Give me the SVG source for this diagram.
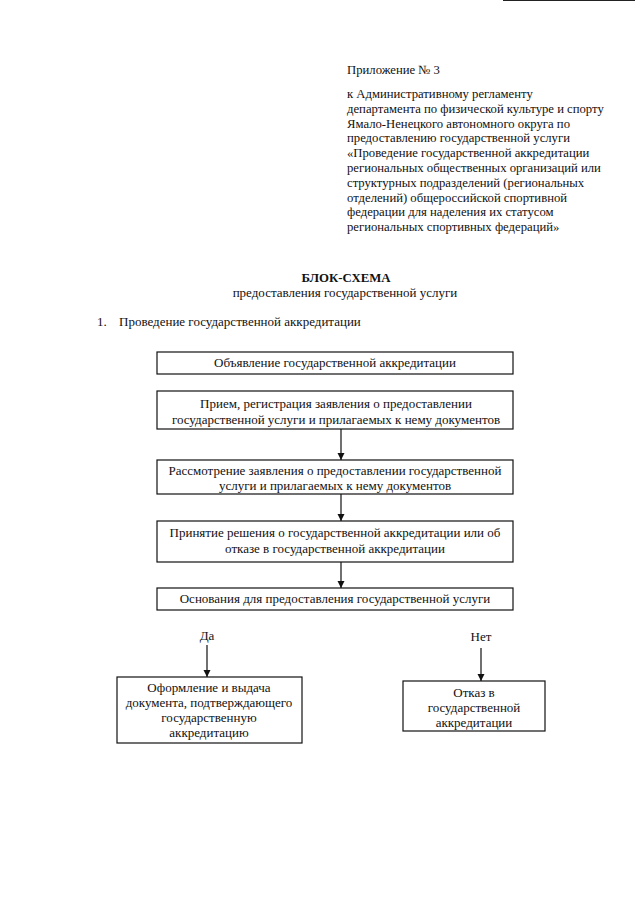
<svg xmlns="http://www.w3.org/2000/svg" width="640" height="905" viewBox="0 0 640 905">
<defs>
<style>
text{font-family:"Liberation Serif","Times New Roman",serif;font-size:13px;fill:#111}
.h{font-size:12.7px}
.c{text-anchor:middle}
.b{font-weight:bold;font-size:12.8px}
.box{fill:#fff;stroke:#111;stroke-width:1.2}
.ln{stroke:#111;stroke-width:1.2;fill:none}
</style>
<marker id="ah" markerWidth="8" markerHeight="8" refX="7" refY="3.5" orient="auto" markerUnits="userSpaceOnUse">
<path d="M0,0 L7,3.5 L0,7 Z" fill="#111"/>
</marker>
</defs>
<rect width="640" height="905" fill="#fff"/>
<line x1="503" y1="0.5" x2="635" y2="0.5" stroke="#222" stroke-width="1"/>
<g id="header">
<text class="h" x="347" y="74">Приложение № 3</text>
<text class="h" x="347" y="98">к Административному регламенту</text>
<text class="h" x="347" y="113">департамента по физической культуре и спорту</text>
<text class="h" x="347" y="128">Ямало-Ненецкого автономного округа по</text>
<text class="h" x="347" y="142">предоставлению государственной услуги</text>
<text class="h" x="347" y="157">«Проведение государственной аккредитации</text>
<text class="h" x="347" y="172">региональных общественных организаций или</text>
<text class="h" x="347" y="187">структурных подразделений (региональных</text>
<text class="h" x="347" y="202">отделений) общероссийской спортивной</text>
<text class="h" x="347" y="216">федерации для наделения их статусом</text>
<text class="h" x="347" y="231">региональных спортивных федераций»</text>
</g>
<g id="title">
<text class="c b" x="346" y="282">БЛОК-СХЕМА</text>
<text class="c" x="345" y="297">предоставления государственной услуги</text>
<text x="97" y="326">1.</text>
<text x="119" y="326">Проведение государственной аккредитации</text>
</g>
<g id="connectors">
<line class="ln" x1="341" y1="429" x2="341" y2="460" marker-end="url(#ah)"/>
<line class="ln" x1="341" y1="494" x2="341" y2="521" marker-end="url(#ah)"/>
<line class="ln" x1="341" y1="562" x2="341" y2="588" marker-end="url(#ah)"/>
<line class="ln" x1="207" y1="645" x2="207" y2="677" marker-end="url(#ah)"/>
<line class="ln" x1="481" y1="648" x2="481" y2="681" marker-end="url(#ah)"/>
<text class="c" x="207" y="640">Да</text>
<text class="c" x="481" y="641">Нет</text>
</g>
<g id="n1">
<rect class="box" x="157" y="352" width="356" height="22"/>
<text class="c" x="335" y="367">Объявление государственной аккредитации</text>
</g>
<g id="n2">
<rect class="box" x="157" y="391" width="356" height="38"/>
<text class="c" x="336" y="408">Прием, регистрация заявления о предоставлении</text>
<text class="c" x="336" y="424">государственной услуги и прилагаемых к нему документов</text>
</g>
<g id="n3">
<rect class="box" x="157" y="460" width="356" height="34"/>
<text class="c" x="335" y="475">Рассмотрение заявления о предоставлении государственной</text>
<text class="c" x="335" y="490">услуги и прилагаемых к нему документов</text>
</g>
<g id="n4">
<rect class="box" x="157" y="521" width="356" height="41"/>
<text class="c" x="335" y="537">Принятие решения о государственной аккредитации или об</text>
<text class="c" x="335" y="553">отказе в государственной аккредитации</text>
</g>
<g id="n5">
<rect class="box" x="157" y="588" width="356" height="22"/>
<text class="c" x="335" y="603">Основания для предоставления государственной услуги</text>
</g>
<g id="n6">
<rect class="box" x="117" y="677" width="185" height="66"/>
<text class="c" x="209" y="692">Оформление и выдача</text>
<text class="c" x="209" y="707">документа, подтверждающего</text>
<text class="c" x="209" y="722">государственную</text>
<text class="c" x="209" y="737">аккредитацию</text>
</g>
<g id="n7">
<rect class="box" x="403" y="681" width="142" height="50"/>
<text class="c" x="474" y="697">Отказ в</text>
<text class="c" x="474" y="712">государственной</text>
<text class="c" x="474" y="727">аккредитации</text>
</g>
</svg>
